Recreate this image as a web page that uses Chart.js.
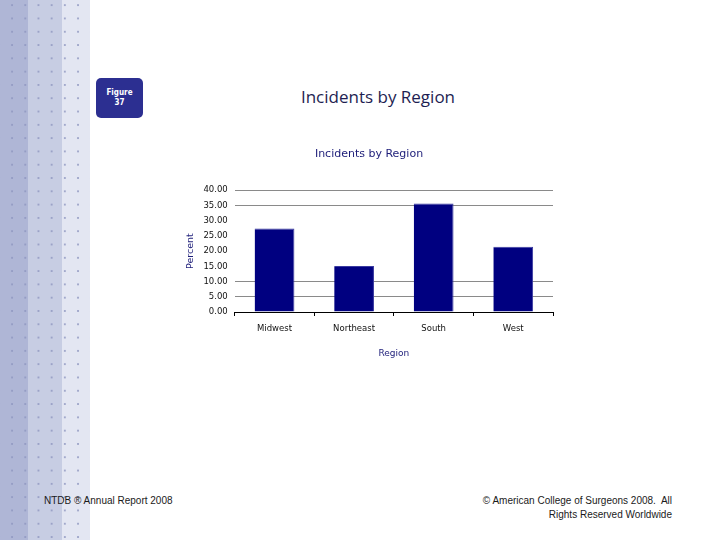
<!DOCTYPE html>
<html lang="en">
<head>
    <meta charset="UTF-8">
    <title>Incidents by Region</title>
    <script src="https://cdn.jsdelivr.net/npm/chart.js"></script>
    <style>
        html, body { margin: 0; padding: 0; }
        body { width: 720px; height: 540px; position: relative; overflow: hidden; background: #fff; }
        .stripe { position: absolute; top: 0; height: 540px; }
        .s1 { left: 0; width: 28px; background: #afb6d6; }
        .s2 { left: 28px; width: 34px; background: #c7cde3; }
        .s3 { left: 62px; width: 28px; background: #e3e6f2; }
        .dots {
            position: absolute; left: 0; top: 0; width: 90px; height: 540px;
            background-image: radial-gradient(circle, rgba(140,148,190,0.75) 1.1px, transparent 1.5px);
            background-size: 13.2px 13.3px;
            background-position: 5.5px -1.5px;
        }
        .badge {
            position: absolute; left: 96px; top: 78px; width: 47px; height: 40px;
            background: #2c2f91; border-radius: 5px; color: #fff;
            font: bold 8px "DejaVu Sans Condensed", "DejaVu Sans", sans-serif;
            text-align: center; line-height: 10px; box-sizing: border-box; padding-top: 10px;
        }
        .heading {
            position: absolute; left: 240px; top: 85px; width: 276px; text-align: center;
            font: 17px "Open Sans", sans-serif; color: #1e1e52;
        }
        .foot { position: absolute; font: 10px "Liberation Sans", Arial, sans-serif; color: #1a1a1a; }
        .foot.left { left: 44px; top: 495px; }
        .foot.right { right: 48px; top: 494px; text-align: right; line-height: 14px; }
        .chart-box { position: absolute; left: 171px; top: 140px; width: 400px; height: 225px; }
    </style>
</head>
<body>
    <div class="stripe s1"></div>
    <div class="stripe s2"></div>
    <div class="stripe s3"></div>
    <div class="dots"></div>

    <div class="badge">Figure<br>37</div>
    <div class="heading">Incidents by Region</div>

    <div class="chart-box">
        <canvas id="regionChart"></canvas>
    </div>

    <div class="foot left">NTDB &reg; Annual Report 2008</div>
    <div class="foot right">&copy; American College of Surgeons 2008.&nbsp; All<br>Rights Reserved Worldwide</div>

    <script>
        // values
        const regions = ['Midwest', 'Northeast', 'South', 'West'];
        const percents = [27.4, 15.1, 35.6, 21.4];
        const yMax = 40;
        const yStep = 5;

        const navy = '#000080';

        const ctx = document.getElementById('regionChart').getContext('2d');
        new Chart(ctx, {
            type: 'bar',
            data: {
                labels: regions,
                datasets: [{
                    label: 'Percent',
                    data: percents,
                    backgroundColor: navy,
                    borderColor: '#3a3aa0',
                    borderWidth: { top: 1, right: 1, left: 0, bottom: 0 },
                    categoryPercentage: 1.0,
                    barPercentage: 0.5
                }]
            },
            options: {
                responsive: true,
                maintainAspectRatio: false,
                animation: false,
                layout: { padding: { left: 14, right: 18, top: 0, bottom: 6 } },
                plugins: {
                    legend: { display: false },
                    tooltip: { enabled: false },
                    title: {
                        display: true,
                        text: 'Incidents by Region',
                        color: '#1c1c78',
                        font: { family: 'DejaVu Sans', size: 11, weight: 'normal' },
                        padding: { top: 8, bottom: 29 }
                    }
                },
                scales: {
                    x: {
                        grid: {
                            offset: true,
                            drawOnChartArea: false,
                            tickLength: 4,
                            color: '#000'
                        },
                        border: { color: '#000', width: 1 },
                        ticks: {
                            color: '#111',
                            padding: 8,
                            font: { family: 'DejaVu Sans', size: 8.5 }
                        },
                        title: {
                            display: true,
                            text: 'Region',
                            color: '#1c1c78',
                            font: { family: 'DejaVu Sans', size: 9 },
                            padding: { top: 6, bottom: 0 }
                        }
                    },
                    y: {
                        min: 0,
                        max: yMax,
                        grid: {
                            drawTicks: false,
                            color: c => (c.tick && c.tick.value >= 15 && c.tick.value <= 30) ? 'rgba(0,0,0,0)' : '#8a8a8a'
                        },
                        border: { display: false },
                        ticks: {
                            stepSize: yStep,
                            padding: 7,
                            color: '#111',
                            font: { family: 'DejaVu Sans', size: 8.5 },
                            callback: v => Number(v).toFixed(2)
                        },
                        title: {
                            display: true,
                            text: 'Percent',
                            color: '#1c1c78',
                            font: { family: 'DejaVu Sans', size: 9.5 },
                            padding: { top: 0, bottom: 0 }
                        }
                    }
                }
            }
        });
    </script>
</body>
</html>
